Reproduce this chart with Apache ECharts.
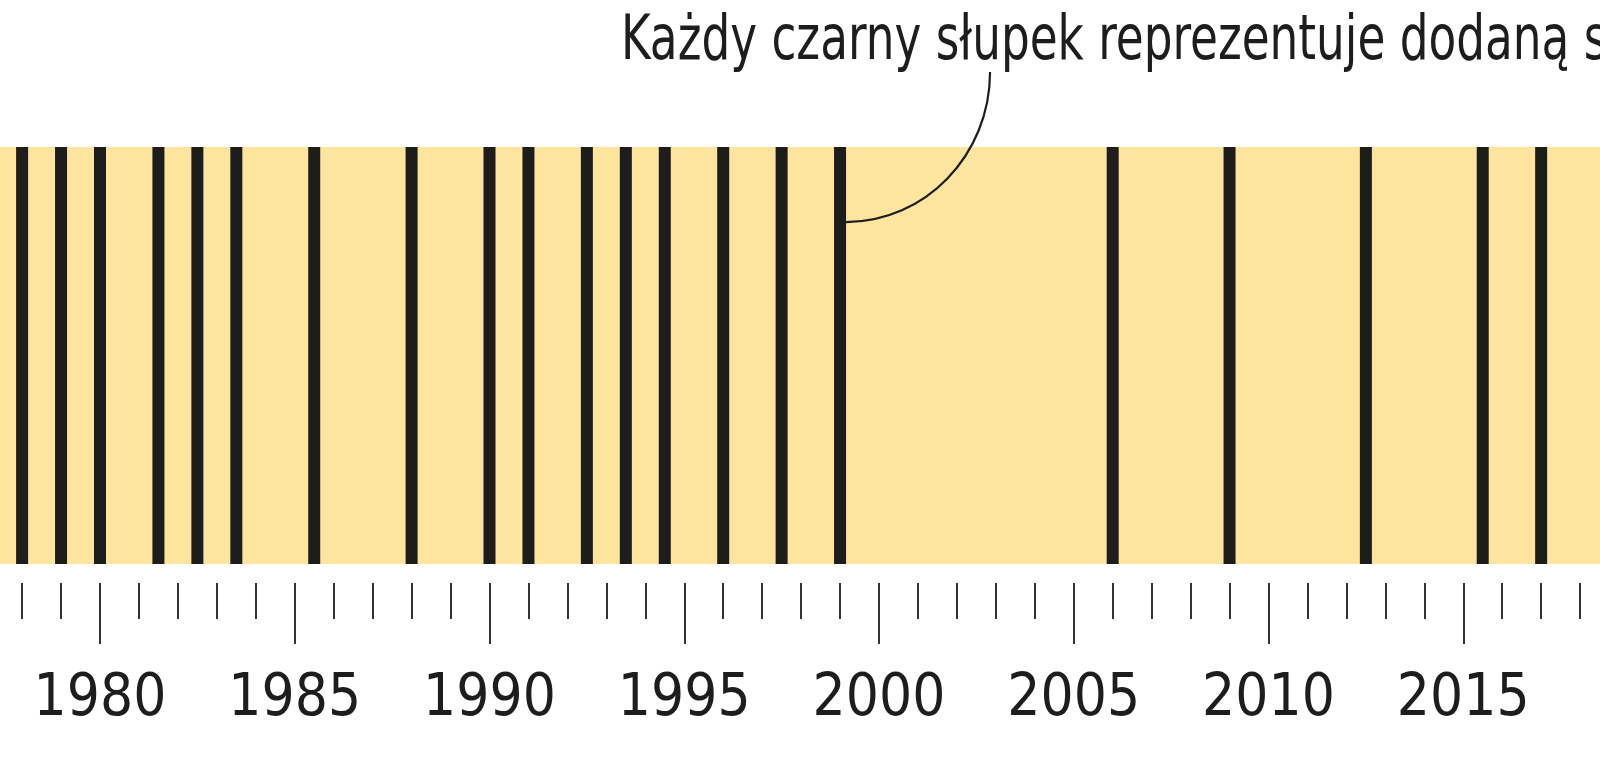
<!DOCTYPE html>
<html>
<head>
<meta charset="utf-8">
<script src="https://cdn.jsdelivr.net/npm/echarts@6/dist/echarts.min.js"></script>
<style>
  html, body { margin: 0; padding: 0; background: #fff; }
  #chart { width: 1600px; height: 768px; }
</style>
</head>
<body>
<div id="chart"></div>
<script>
// lata, w których pojawił się czarny słupek
const years = [1978, 1979, 1980, 1981.5, 1982.5, 1983.5, 1985.5, 1988, 1990, 1991,
  1992.5, 1993.5, 1994.5, 1996, 1997.5, 1999, 2006, 2009, 2012.5, 2015.5, 2017];
// zakres osi i krok głównych kresek
const axisMin = 1975;
const axisMax = 2020;
const tickStep = 5;
// opis i słupek, do którego prowadzi linia
const noteText = "Każdy czarny słupek reprezentuje dodaną s";
const noteYear = 1999;

const ink = "#1d1d1b";
const narrow = '"DejaVu Sans Condensed", "DejaVu Sans", sans-serif';

let chart = echarts.init(document.getElementById("chart"));

chart.setOption({
  animation: false,
  grid: {
    left: -94.75,
    right: -58,
    top: 147,
    bottom: 204,
    outerBoundsMode: "none",
    containLabel: false,
    show: true,
    backgroundColor: "#fde49f",
    borderWidth: 0
  },
  xAxis: {
    type: "value",
    min: axisMin,
    max: axisMax,
    interval: tickStep,
    offset: 19,
    axisLine: { show: false, onZero: false },
    axisTick: { show: true, length: 61, lineStyle: { color: ink, width: 1.8 } },
    minorTick: { show: true, splitNumber: 5, length: 36, lineStyle: { color: ink, width: 1.8 } },
    splitLine: { show: false },
    axisLabel: {
      margin: 88,
      fontSize: 58,
      fontFamily: narrow,
      color: ink,
      showMinLabel: false,
      showMaxLabel: false,
      formatter: v => String(v)
    }
  },
  yAxis: { type: "value", min: 0, max: 1, show: false },
  series: [
    {
      type: "bar",
      silent: true,
      barWidth: 12,
      itemStyle: { color: ink },
      data: years.map(y => [y, 1])
    }
  ]
});

// linia odnośnika: od słupka noteYear w górę do podpisu
const a = chart.convertToPixel({ gridIndex: 0 }, [noteYear, 0.82]);
const ax = a[0] + 6, ay = a[1];
chart.setOption({
  graphic: [
    {
      type: "bezierCurve",
      silent: true,
      z: 10,
      shape: {
        x1: ax, y1: ay,
        cpx1: ax + 79, cpy1: ay,
        cpx2: ax + 144, cpy2: ay - 67,
        x2: ax + 144, y2: ay - 150
      },
      style: { stroke: ink, lineWidth: 2.2, fill: null }
    },
    {
      type: "text",
      x: 621,
      y: 11,
      scaleX: 0.8,
      silent: true,
      style: {
        text: noteText,
        font: '63px ' + narrow,
        fill: ink,
        align: "left",
        verticalAlign: "top"
      }
    }
  ]
});
</script>
</body>
</html>
